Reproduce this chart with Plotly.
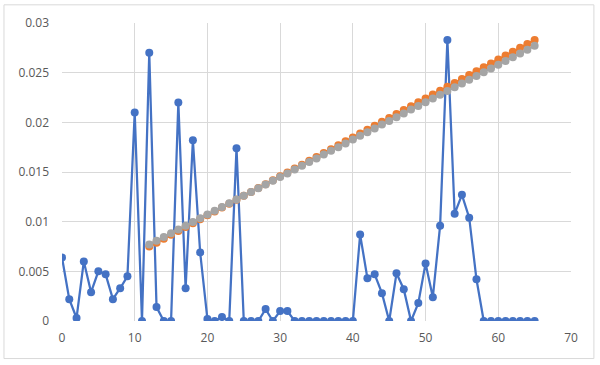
import plotly.graph_objects as go

x_blue = list(range(0, 66))
y_blue = [0.0064, 0.0022, 0.0003, 0.0060, 0.0029, 0.0050, 0.0047, 0.0022, 0.0033, 0.0045,
          0.0210, 0.0000, 0.0270, 0.0014, 0.0000, 0.0000, 0.0220, 0.0033, 0.0182, 0.0069,
          0.0002, 0.0000, 0.0004, 0.0000, 0.0174, 0.0000, 0.0000, 0.0000, 0.0012, 0.0000,
          0.0010, 0.0010, 0.0000, 0.0000, 0.0000, 0.0000, 0.0000, 0.0000, 0.0000, 0.0000,
          0.0000, 0.0087, 0.0043, 0.0047, 0.0028, 0.0000, 0.0048, 0.0032, 0.0000, 0.0018,
          0.0058, 0.0024, 0.0096, 0.0283, 0.0108, 0.0127, 0.0104, 0.0042, 0.0000, 0.0000,
          0.0000, 0.0000, 0.0000, 0.0000, 0.0000, 0.0000]

x_trend = list(range(12, 66))
y_orange = [0.00750, 0.00789, 0.00828, 0.00868, 0.00907, 0.00946, 0.00985, 0.01024, 0.01064, 0.01103,
            0.01142, 0.01181, 0.01221, 0.01260, 0.01299, 0.01338, 0.01377, 0.01417, 0.01456, 0.01495,
            0.01534, 0.01574, 0.01613, 0.01652, 0.01691, 0.01730, 0.01770, 0.01809, 0.01848, 0.01887,
            0.01926, 0.01966, 0.02005, 0.02044, 0.02083, 0.02123, 0.02162, 0.02201, 0.02240, 0.02279,
            0.02319, 0.02358, 0.02397, 0.02436, 0.02476, 0.02515, 0.02554, 0.02593, 0.02632, 0.02672,
            0.02711, 0.02750, 0.02789, 0.02830]
y_gray = [0.00770, 0.00808, 0.00845, 0.00883, 0.00921, 0.00958, 0.00996, 0.01034, 0.01072, 0.01109,
          0.01147, 0.01185, 0.01222, 0.01260, 0.01298, 0.01336, 0.01373, 0.01411, 0.01449, 0.01486,
          0.01524, 0.01562, 0.01600, 0.01637, 0.01675, 0.01713, 0.01750, 0.01788, 0.01826, 0.01864,
          0.01901, 0.01939, 0.01977, 0.02014, 0.02052, 0.02090, 0.02128, 0.02165, 0.02203, 0.02241,
          0.02278, 0.02316, 0.02354, 0.02392, 0.02429, 0.02467, 0.02505, 0.02542, 0.02580, 0.02618,
          0.02656, 0.02693, 0.02731, 0.02770]

x_ticks = [0, 10, 20, 30, 40, 50, 60, 70]
y_ticks = [0, 0.005, 0.01, 0.015, 0.02, 0.025, 0.03]
y_tick_labels = ["0", "0.005", "0.01", "0.015", "0.02", "0.025", "0.03"]

fig = go.Figure()
fig.add_trace(go.Scatter(x=x_blue, y=y_blue, mode="lines+markers",
                         line=dict(color="#4472C4", width=2.25),
                         marker=dict(color="#4472C4", size=8), showlegend=False))
fig.add_trace(go.Scatter(x=x_trend, y=y_orange, mode="lines+markers",
                         line=dict(color="#ED7D31", width=2.25),
                         marker=dict(color="#ED7D31", size=8), showlegend=False))
fig.add_trace(go.Scatter(x=x_trend, y=y_gray, mode="lines+markers",
                         line=dict(color="#A5A5A5", width=2.25),
                         marker=dict(color="#A5A5A5", size=8), showlegend=False))

fig.update_layout(
    width=600, height=365,
    margin=dict(l=62, r=29, t=23, b=44),
    plot_bgcolor="white", paper_bgcolor="white",
    font=dict(family="Open Sans, DejaVu Sans, sans-serif", size=12, color="#595959"),
    xaxis=dict(range=[0, 70], tickvals=x_ticks, showgrid=True, gridcolor="#D9D9D9",
               gridwidth=1, zeroline=False, showline=False, ticks="",
               ticklabelstandoff=8),
    yaxis=dict(range=[0, 0.03], tickvals=y_ticks, ticktext=y_tick_labels, showgrid=True,
               gridcolor="#D9D9D9", gridwidth=1, zeroline=False, showline=False, ticks="",
               ticklabelstandoff=12),
    shapes=[dict(type="rect", xref="paper", yref="paper",
                 x0=-0.114, x1=1.045, y0=-0.126, y1=1.061,
                 line=dict(color="#D9D9D9", width=1), fillcolor="rgba(0,0,0,0)", layer="below")],
)

fig.write_html("out.html", config={"displayModeBar": False},
               post_script="document.body.style.margin='0px';")
